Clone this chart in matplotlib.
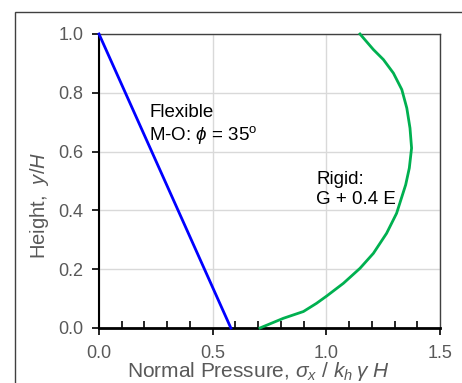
import matplotlib.pyplot as plt
from matplotlib.patches import Rectangle
from matplotlib.ticker import MultipleLocator

plt.rcParams['font.family'] = ['Liberation Sans', 'DejaVu Sans']
plt.rcParams['mathtext.fontset'] = 'custom'
plt.rcParams['mathtext.rm'] = 'Liberation Sans'
plt.rcParams['mathtext.it'] = 'Liberation Sans:italic'

# 柔性墙 (M-O) 直线
flex_x = [0.0, 0.58]
flex_y = [1.0, 0.0]

# 刚性墙 (G + 0.4 E) 曲线
rigid_y = [0.0, 0.033, 0.056, 0.084, 0.109, 0.152, 0.203, 0.254, 0.322, 0.390,
           0.487, 0.544, 0.612, 0.680, 0.748, 0.811, 0.867, 0.913, 0.947, 1.0]
rigid_x = [0.708, 0.811, 0.899, 0.957, 1.002, 1.075, 1.148, 1.207, 1.265, 1.309,
           1.349, 1.365, 1.375, 1.368, 1.354, 1.332, 1.295, 1.251, 1.207, 1.148]

x_ticks = [0.0, 0.5, 1.0, 1.5]
y_ticks = [0.0, 0.2, 0.4, 0.6, 0.8, 1.0]

fig = plt.figure(figsize=(4.62, 3.83), dpi=100)
ax = fig.add_axes([99 / 462, (383 - 328) / 383, (440 - 99) / 462, (328 - 34) / 383])

# 外框
fig.patches.append(Rectangle((15 / 462, -0.1), 1.2, (383 - 12) / 383 + 0.1,
                             transform=fig.transFigure, fill=False,
                             edgecolor='#404040', linewidth=1.0, clip_on=False))

ax.plot(flex_x, flex_y, color='#0000ff', linewidth=2, clip_on=False, zorder=3)
ax.plot(rigid_x, rigid_y, color='#00b050', linewidth=2, clip_on=False, zorder=3,
        solid_joinstyle='round')

ax.set_xlim(0, 1.5)
ax.set_ylim(0, 1.0)
ax.set_xticks(x_ticks)
ax.set_yticks(y_ticks)
ax.set_xticklabels(['%.1f' % v for v in x_ticks])
ax.set_yticklabels(['%.1f' % v for v in y_ticks])
ax.xaxis.set_minor_locator(MultipleLocator(0.1))

ax.grid(True, color='#d9d9d9', linewidth=1)
ax.set_axisbelow(True)

ax.tick_params(axis='both', which='major', direction='out', length=5, width=1.2,
               color='black', labelsize=13, labelcolor='#595959')
ax.tick_params(axis='x', which='minor', direction='in', length=5, width=1.2, color='black')
ax.tick_params(axis='x', which='major', pad=7)
ax.tick_params(axis='y', which='major', pad=6)

for side in ['top', 'right']:
    ax.spines[side].set_color('#404040')
    ax.spines[side].set_linewidth(1.0)
ax.spines['left'].set_color('black')
ax.spines['left'].set_linewidth(1.5)
ax.spines['bottom'].set_color('black')
ax.spines['bottom'].set_linewidth(2)

ax.set_xlabel(r'Normal Pressure, $\sigma_x$ / $k_h\;\gamma\;H$', fontsize=15,
              color='#595959')
ax.set_ylabel(r'Height,  $y/H$', fontsize=14.5, color='#595959')
ax.xaxis.set_label_coords(0.468, -0.11)
ax.yaxis.set_label_coords(-0.14, 0.418)

ax.text(0.22, 0.64, 'Flexible\nM-O: $\\phi$ = 35$^{\\rm o}$', fontsize=13.5,
        color='black', linespacing=1.2)
ax.text(0.955, 0.422, 'Rigid:\nG + 0.4 E', fontsize=13.5, color='black',
        linespacing=1.2)

fig.savefig('out.png', dpi=100)
